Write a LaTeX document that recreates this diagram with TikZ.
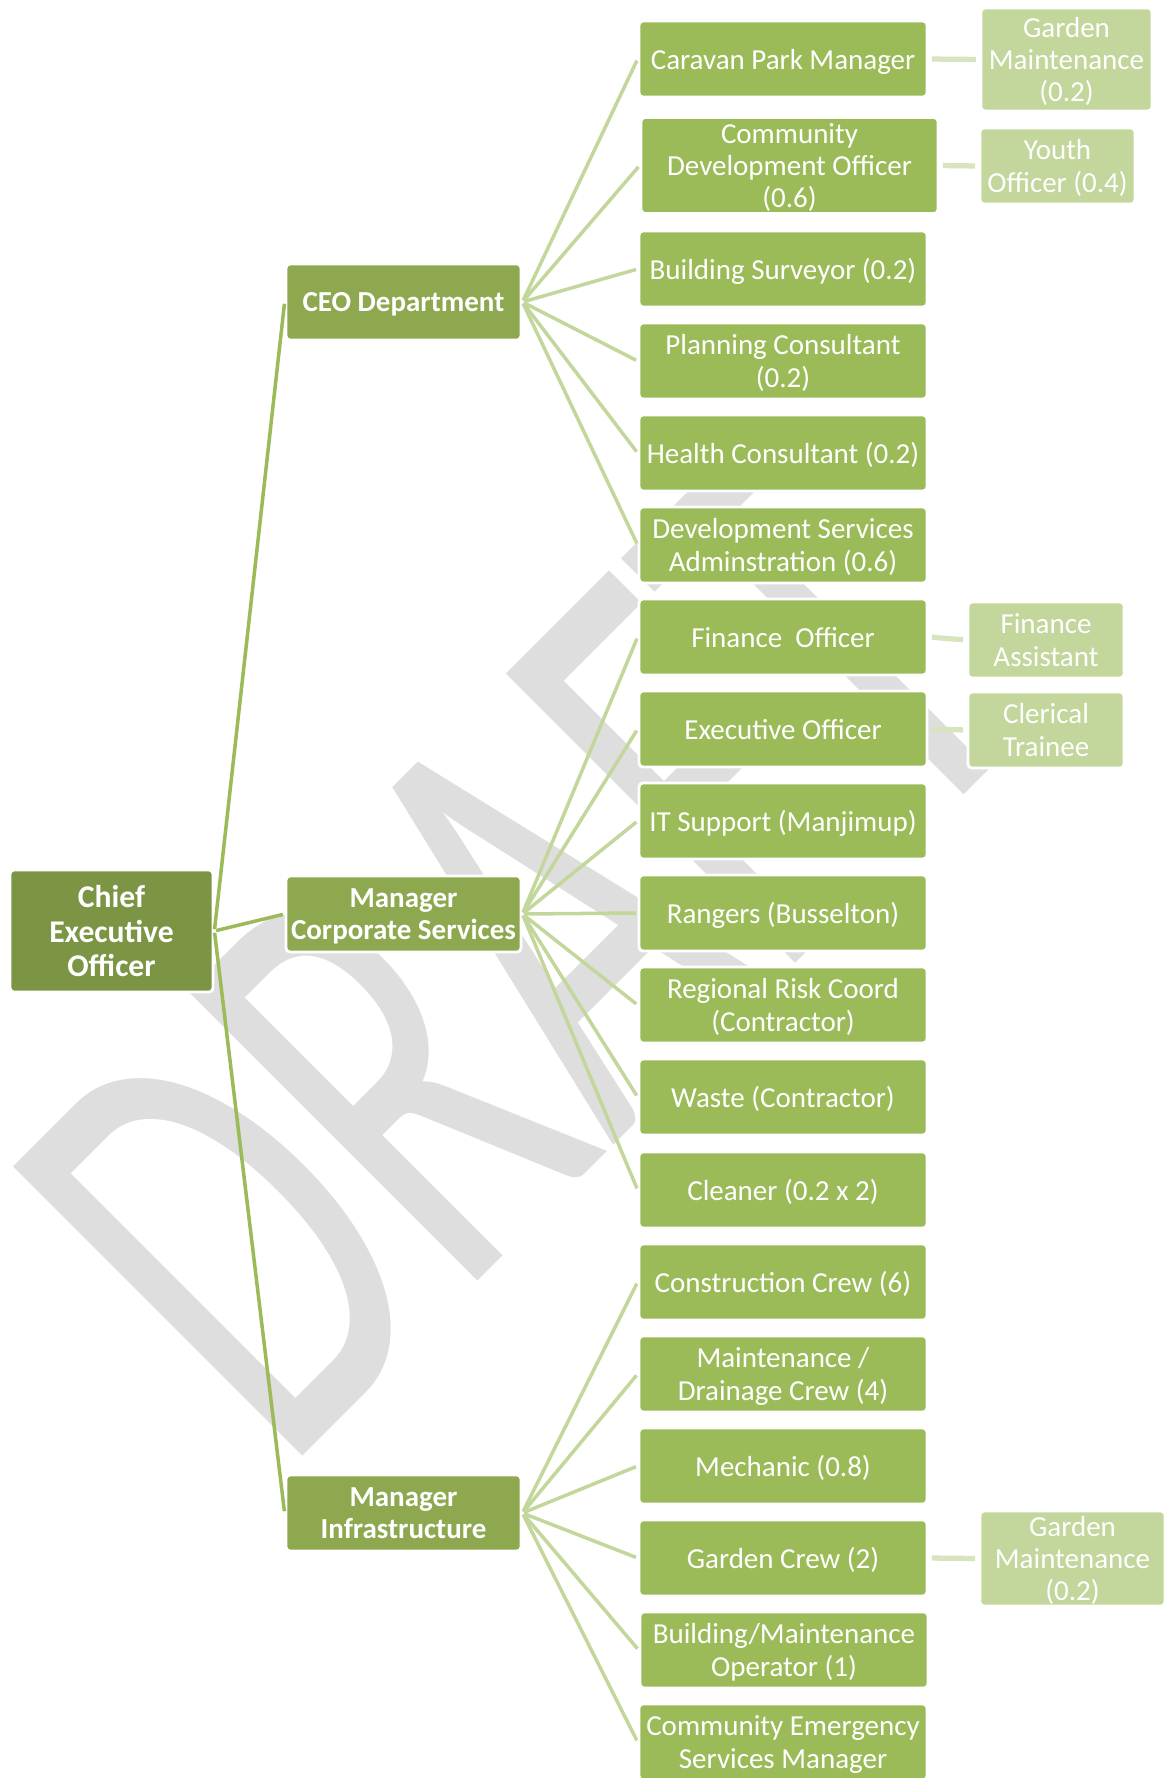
\documentclass[tikz,border=0pt]{standalone}
\usepackage{fontspec}
\setmainfont{Carlito}
\newfontfamily\wmfont{Carlito}

\definecolor{ceofill}{RGB}{124,149,69}
\definecolor{mgrfill}{RGB}{141,168,79}
\definecolor{stafffill}{RGB}{155,187,89}
\definecolor{subfill}{RGB}{195,214,155}
\definecolor{linkA}{RGB}{155,187,89}
\definecolor{linkB}{RGB}{195,214,155}
\definecolor{linkC}{RGB}{215,228,189}
\definecolor{wmgray}{RGB}{222,222,222}

\begin{document}
\begin{tikzpicture}[x=0.02cm,y=-0.02cm]
\tikzstyle{every node}+=[inner sep=0pt]
\tikzstyle{box}=[draw=white, line width=1.6pt, rounded corners=2.2pt, text=white, align=center, text depth=0pt, font=\fontsize{16.5}{18.4}\selectfont]
\tikzstyle{ceobox}=[box, fill=ceofill, minimum width=4.06cm, minimum height=2.44cm, font=\bfseries\fontsize{18}{19.8}\selectfont]
\tikzstyle{mgrbox}=[box, fill=mgrfill, minimum width=4.7cm, minimum height=1.52cm, font=\bfseries\fontsize{16.5}{18.4}\selectfont]
\tikzstyle{staffbox}=[box, fill=stafffill, minimum width=5.76cm, minimum height=1.52cm]
\tikzstyle{subbox}=[box, fill=subfill, minimum height=1.52cm]
\tikzstyle{toplink}=[draw=linkA, line width=2pt, shorten <=1pt, shorten >=1pt]
\tikzstyle{midlink}=[draw=linkB, line width=2pt, shorten <=1pt, shorten >=1pt]
\tikzstyle{sublink}=[draw=linkC, line width=3pt, shorten <=2pt, shorten >=2pt]
\useasboundingbox (0,0) rectangle (1166,1778);
% watermark
\draw (283,1476) node (draft) [rotate=45, anchor=base west, text=wmgray, font=\wmfont\fontsize{363}{363}\selectfont] {\scalebox{0.63}[1]{DRAFT}};
% top and managers
\draw (111.5,931) node (ceo) [ceobox] {Chief\\Executive\\Officer};
\draw (403.5,302) node (ceodept) [mgrbox] {CEO Department};
\draw (403.5,914) node (corp) [mgrbox] {Manager\\Corporate Services};
\draw (403.5,1513) node (infra) [mgrbox] {Manager\\Infrastructure};
% CEO department staff
\draw (783,59) node (caravan) [staffbox] {Caravan Park Manager};
\draw (789.5,165.5) node (cdo) [staffbox, minimum width=5.94cm, minimum height=1.92cm] {Community\\Development Officer\\(0.6)};
\draw (783,269) node (surveyor) [staffbox] {Building Surveyor (0.2)};
\draw (783,361) node (planning) [staffbox] {Planning Consultant\\(0.2)};
\draw (783,453) node (health) [staffbox] {Health Consultant (0.2)};
\draw (783,545) node (devadmin) [staffbox] {Development Services\\Adminstration (0.6)};
% corporate services staff
\draw (783,637) node (finance) [staffbox] {Finance~~Officer};
\draw (783,729) node (exec) [staffbox] {Executive Officer};
\draw (783,821) node (itsup) [staffbox] {IT Support (Manjimup)};
\draw (783,913) node (rangers) [staffbox] {Rangers (Busselton)};
\draw (783,1005) node (risk) [staffbox] {Regional Risk Coord\\(Contractor)};
\draw (783,1097) node (waste) [staffbox] {Waste (Contractor)};
\draw (783,1190) node (cleaner) [staffbox] {Cleaner (0.2 x 2)};
% infrastructure staff
\draw (783,1282) node (constr) [staffbox] {Construction Crew (6)};
\draw (783,1374) node (drain) [staffbox] {Maintenance /\\Drainage Crew (4)};
\draw (783,1466) node (mech) [staffbox] {Mechanic (0.8)};
\draw (783,1558) node (gcrew) [staffbox] {Garden Crew (2)};
\draw (784,1650) node (bmop) [staffbox] {Building/Maintenance\\Operator (1)};
\draw (783,1742) node (emerg) [staffbox] {Community Emergency\\Services Manager};
% fourth level
\draw (1066.5,59.5) node (gmtop) [subbox, minimum width=3.42cm, minimum height=2.06cm] {Garden\\Maintenance\\(0.2)};
\draw (1057.5,166) node (youth) [subbox, minimum width=3.1cm] {Youth\\Officer (0.4)};
\draw (1046,640) node (finasst) [subbox, minimum width=3.12cm] {Finance\\Assistant};
\draw (1046,730) node (clerical) [subbox, minimum width=3.12cm] {Clerical\\Trainee};
\draw (1072.5,1558.5) node (gmbot) [subbox, minimum width=3.7cm, minimum height=1.9cm] {Garden\\Maintenance\\(0.2)};
% links
\draw [toplink] (ceo.east) -- (ceodept.west);
\draw [toplink] (ceo.east) -- (corp.west);
\draw [toplink] (ceo.east) -- (infra.west);
\draw [midlink] (ceodept.east) -- (caravan.west);
\draw [midlink] (ceodept.east) -- (cdo.west);
\draw [midlink] (ceodept.east) -- (surveyor.west);
\draw [midlink] (ceodept.east) -- (planning.west);
\draw [midlink] (ceodept.east) -- (health.west);
\draw [midlink] (ceodept.east) -- (devadmin.west);
\draw [midlink] (corp.east) -- (finance.west);
\draw [midlink] (corp.east) -- (exec.west);
\draw [midlink] (corp.east) -- (itsup.west);
\draw [midlink] (corp.east) -- (rangers.west);
\draw [midlink] (corp.east) -- (risk.west);
\draw [midlink] (corp.east) -- (waste.west);
\draw [midlink] (corp.east) -- (cleaner.west);
\draw [midlink] (infra.east) -- (constr.west);
\draw [midlink] (infra.east) -- (drain.west);
\draw [midlink] (infra.east) -- (mech.west);
\draw [midlink] (infra.east) -- (gcrew.west);
\draw [midlink] (infra.east) -- (bmop.west);
\draw [midlink] (infra.east) -- (emerg.west);
\draw [sublink] (caravan.east) -- (gmtop.west);
\draw [sublink] (cdo.east) -- (youth.west);
\draw [sublink] (finance.east) -- (finasst.west);
\draw [sublink] (exec.east) -- (clerical.west);
\draw [sublink] (gcrew.east) -- (gmbot.west);
\end{tikzpicture}
\end{document}
